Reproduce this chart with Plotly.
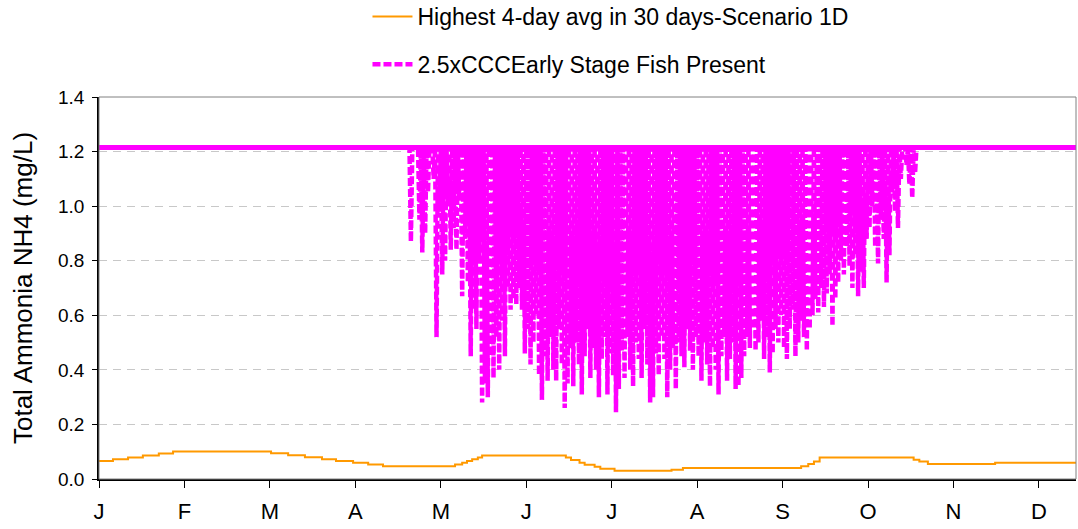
import plotly.graph_objects as go

# ---------------- data ----------------
month_labels = ["J", "F", "M", "A", "M", "J", "J", "A", "S", "O", "N", "D"]
month_ticks = [0, 30, 60, 90, 120, 150, 180, 210, 240, 270, 300, 330]
x_end = 343

CAP = 1.215  # 2.5xCCC criterion ceiling (mg/L)

# days with a dip below the ceiling and the daily low reached
dip_days = list(range(108, 287))
dip_lows = [
    1.215, 0.87, 1.215, 1.215, 0.95, 0.83, 0.90, 1.05, 1.215, 1.10,  # 108-117
    0.52, 0.98, 0.75, 0.80, 1.00, 0.84, 0.92, 0.84, 1.02, 0.67,      # 118-127
    0.88, 0.72, 0.45, 0.62, 0.55, 0.80, 0.28, 0.35, 0.30, 0.45,      # 128-137
    0.37, 0.52, 0.40, 0.58, 0.45, 0.70, 0.62, 0.66, 0.64, 0.70,      # 138-147
    0.62, 0.46, 0.55, 0.42, 0.50, 0.60, 0.38, 0.29, 0.45, 0.36,      # 148-157
    0.52, 0.40, 0.36, 0.55, 0.42, 0.26, 0.35, 0.48, 0.34, 0.50,      # 158-167
    0.42, 0.31, 0.45, 0.55, 0.37, 0.48, 0.40, 0.30, 0.44, 0.52,      # 168-177
    0.31, 0.46, 0.38, 0.245, 0.33, 0.47, 0.37, 0.52, 0.40, 0.34,     # 178-187
    0.50, 0.44, 0.37, 0.55, 0.42, 0.28, 0.30, 0.46, 0.38, 0.52,      # 188-197
    0.44, 0.30, 0.40, 0.48, 0.33, 0.50, 0.45, 0.41, 0.55, 0.47,      # 198-207
    0.40, 0.52, 0.45, 0.36, 0.50, 0.42, 0.34, 0.48, 0.40, 0.31,      # 208-217
    0.45, 0.52, 0.36, 0.44, 0.50, 0.33, 0.34, 0.37, 0.45, 0.52,      # 218-227
    0.48, 0.55, 0.47, 0.50, 0.58, 0.44, 0.52, 0.39, 0.46, 0.55,      # 228-237
    0.50, 0.60, 0.48, 0.44, 0.55, 0.62, 0.45, 0.50, 0.58, 0.52,      # 238-247
    0.47, 0.55, 0.60, 0.66, 0.61, 0.70, 0.63, 0.68, 0.75, 0.56,      # 248-257
    0.66, 0.72, 0.80, 0.75, 0.85, 0.78, 0.70, 0.82, 0.67, 0.76,      # 258-267
    0.70, 0.88, 0.92, 1.00, 0.85, 0.79, 0.95, 0.88, 0.72, 0.82,      # 268-277
    1.05, 0.98, 0.92, 1.10, 1.215, 1.15, 1.08, 1.03, 1.12,           # 278-286
]

# highest 4-day average in 30 days (step series: start day, value)
avg_days = [0, 4.9, 10.2, 15.4, 21, 26, 60.4, 66.4, 72.3, 78.3, 83.2, 89.2,
            94.5, 99.7, 125, 127.5, 129.2, 131, 133, 134.5, 163.9, 165.7,
            168.7, 170.5, 174, 176, 181, 201, 205, 246.5, 249, 251, 253,
            286, 288, 291, 314.6, 343]
avg_vals = [0.066, 0.072, 0.079, 0.086, 0.093, 0.101, 0.0945, 0.087, 0.080,
            0.072, 0.066, 0.060, 0.053, 0.047, 0.053, 0.060, 0.066, 0.072,
            0.079, 0.086, 0.079, 0.070, 0.060, 0.052, 0.045, 0.038, 0.030,
            0.034, 0.040, 0.047, 0.055, 0.064, 0.079, 0.071, 0.064, 0.055,
            0.060, 0.060]

# ---------------- build traces ----------------
mx, my = [0], [CAP]
for d, lo in zip(dip_days, dip_lows):
    mx += [d, d + 0.5]
    my += [CAP, lo]
mx += [dip_days[-1] + 1, x_end]
my += [CAP, CAP]

FONT = "Liberation Sans, Arial, sans-serif"
ORANGE = "#FF9900"
MAGENTA = "#FF00FF"

fig = go.Figure()
fig.add_trace(go.Scatter(
    x=avg_days, y=avg_vals, mode="lines", line_shape="hv",
    line=dict(color=ORANGE, width=2),
    name="Highest 4-day avg in 30 days-Scenario 1D", legendgroup="a",
))
fig.add_trace(go.Scatter(
    x=[0, x_end], y=[CAP, CAP], mode="lines",
    line=dict(color=MAGENTA, width=5), showlegend=False, hoverinfo="skip",
))
fig.add_trace(go.Scatter(
    x=mx, y=my, mode="lines",
    line=dict(color=MAGENTA, width=4.5, dash="8px,3px"),
    name="2.5xCCCEarly Stage Fish Present", legendgroup="b",
))

fig.update_layout(
    width=1078, height=529,
    margin=dict(l=99, r=2, t=97, b=50, autoexpand=False),
    paper_bgcolor="white", plot_bgcolor="white",
    font=dict(family=FONT, size=18, color="black"),
    showlegend=True,
    legend=dict(
        x=0.2748, y=1.267, xanchor="left", yanchor="top",
        orientation="v", traceorder="grouped", tracegroupgap=15,
        bgcolor="rgba(0,0,0,0)", font=dict(family=FONT, size=23),
        itemwidth=40,
    ),
    xaxis=dict(
        range=[0, x_end], tickmode="array", tickvals=month_ticks,
        ticktext=month_labels, ticks="outside", ticklen=7, tickcolor="black",
        showline=True, linecolor="black", linewidth=1.5, showgrid=False,
        zeroline=False, ticklabelstandoff=5,
        tickfont=dict(family=FONT, size=22),
    ),
    yaxis=dict(
        range=[0, 1.4], dtick=0.2, tickformat=".1f", ticks="outside",
        ticklen=5, tickcolor="black", showline=True, linecolor="black",
        linewidth=1.5, showgrid=True, gridcolor="#C8C8C8", gridwidth=1,
        griddash="8px,6px", zeroline=False, ticklabelstandoff=4,
        title=dict(text="Total Ammonia NH4 (mg/L)", standoff=18,
                   font=dict(family=FONT, size=26)),
        tickfont=dict(family=FONT, size=19),
    ),
    shapes=[dict(type="rect", xref="paper", yref="paper", x0=0, x1=1, y0=0, y1=1,
                 line=dict(color="#808080", width=1), layer="above")],
)

fig.write_html("out.html", config={"displayModeBar": False},
               post_script="document.body.style.margin='0';")
